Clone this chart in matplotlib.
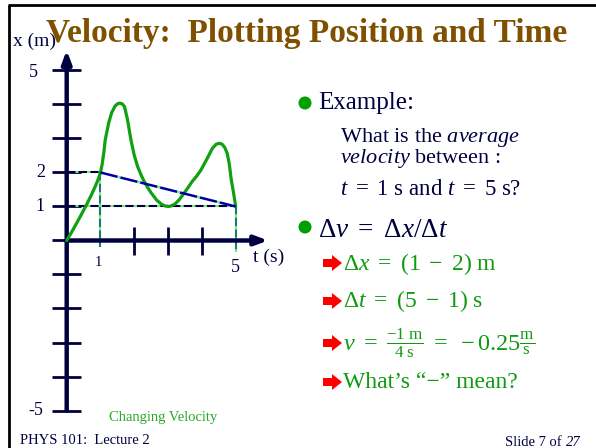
import matplotlib
matplotlib.use("Agg")
import matplotlib.pyplot as plt
from matplotlib.patches import Circle, Polygon

plt.rcParams["font.family"] = ["Liberation Serif", "DejaVu Serif"]
plt.rcParams["mathtext.fontset"] = "custom"
plt.rcParams["mathtext.rm"] = "Liberation Serif"
plt.rcParams["mathtext.it"] = "Liberation Serif:italic"
plt.rcParams["mathtext.bf"] = "Liberation Serif:bold"

# ---- data -------------------------------------------------------------
curve_t = [0.0, 0.13, 0.26, 0.42, 0.58, 0.72, 0.84, 0.92, 1.0, 1.05, 1.1,
           1.14, 1.24, 1.33, 1.43, 1.5, 1.57, 1.64, 1.71, 1.8, 1.9, 2.0,
           2.1, 2.2, 2.29, 2.4, 2.5, 2.66, 2.8, 2.9, 3.0, 3.07, 3.2, 3.33,
           3.47, 3.6, 3.7, 3.85, 3.97, 4.15, 4.31, 4.42, 4.52, 4.6, 4.68,
           4.75, 4.81, 4.87, 4.94, 5.0]
curve_x = [0.0, 0.22, 0.45, 0.74, 1.04, 1.32, 1.58, 1.77, 2.0, 2.25, 2.6,
           2.96, 3.45, 3.76, 3.95, 4.02, 4.04, 4.02, 3.94, 3.55, 2.96, 2.5,
           2.17, 1.93, 1.74, 1.55, 1.4, 1.19, 1.07, 1.02, 1.0, 1.01, 1.07,
           1.2, 1.39, 1.57, 1.72, 1.9, 2.07, 2.4, 2.71, 2.83, 2.86, 2.83,
           2.73, 2.56, 2.25, 1.78, 1.38, 1.0]

t_start, t_end = 1, 5
x_start, x_end = 2, 1

y_ticks = [-5, -4, -3, -2, -1, 0, 1, 2, 3, 4, 5]
x_ticks_plain = [2, 3, 4]
y_tick_labels = {5: "5", 2: "2", 1: "1", -5: "-5"}
x_tick_labels = {1: "1", 5: "5"}

# ---- colours ----------------------------------------------------------
NAVY = "#000040"
BROWN = "#7f5000"
GREEN = "#10a010"
TEXT_GREEN = "#109a10"
LIME = "#70f070"
BLUE = "#0000a0"
TEAL = "#1a7a7a"

W, H = 596, 448
fig = plt.figure(figsize=(W / 100, H / 100), dpi=100)
fig.patch.set_facecolor("white")

# page layer in pixel units (y downwards)
pg = fig.add_axes([0, 0, 1, 1])
pg.set_xlim(0, W)
pg.set_ylim(H, 0)
pg.axis("off")

# slide frame
pg.plot([8, W], [5, 5], color="black", lw=2.0, solid_capstyle="butt")
pg.plot([9, 9], [5, H], color="black", lw=2.0, solid_capstyle="butt")

# title
pg.text(46, 42, "Velocity:  Plotting Position and Time", fontsize=24,
        fontweight="bold", color=BROWN, ha="left", va="baseline")

# ---- graph ------------------------------------------------------------
# pixel placement of the graph axes: t=0 at px 66.7, 33.8 px per second;
# x=0 at py 240.5, 34 px per metre
t0_px, t_scale = 66.7, 33.8
x0_py, x_scale = 240.5, 34.0
t_lo, t_hi = -1.0, 6.5
x_lo, x_hi = -5.6, 6.0
left = t0_px + t_lo * t_scale
right = t0_px + t_hi * t_scale
top = x0_py - x_hi * x_scale
bottom = x0_py - x_lo * x_scale
ax = fig.add_axes([left / W, (H - bottom) / H, (right - left) / W,
                   (bottom - top) / H])
ax.set_xlim(t_lo, t_hi)
ax.set_ylim(x_lo, x_hi)
ax.axis("off")
ax.patch.set_alpha(0)

# axes with arrows
head = "-|>,head_length=0.75,head_width=0.28"
ax.annotate("", xy=(0, 5.6), xytext=(0, -5.0),
            arrowprops=dict(arrowstyle=head, lw=3.2, color=NAVY,
                            shrinkA=0, shrinkB=0))
ax.annotate("", xy=(5.96, 0), xytext=(0, 0),
            arrowprops=dict(arrowstyle=head, lw=3.2, color=NAVY,
                            shrinkA=0, shrinkB=0))
ax.hlines(y_ticks, -0.43, 0.43, color=NAVY, lw=2.0)
ax.vlines(x_ticks_plain, -0.43, 0.41, color=NAVY, lw=2.0)

# guide lines
ax.plot([0, t_start], [x_start, x_start], color=NAVY, gapcolor=LIME,
        lw=1.5, ls=(0, (4, 1.6)))
ax.plot([0, t_end], [x_end, x_end], color=NAVY, gapcolor=LIME,
        lw=1.5, ls=(0, (4, 1.6)))
ax.plot([t_start, t_start], [x_start, -0.2], color=TEAL, gapcolor=LIME,
        lw=1.5, ls=(0, (4, 1.6)))
ax.plot([t_end, t_end], [x_end, -0.35], color=TEAL, gapcolor=LIME,
        lw=1.5, ls=(0, (4, 1.6)))

# position curve
ax.plot(curve_t, curve_x, color=GREEN, lw=2.3, solid_joinstyle="round",
        solid_capstyle="round", zorder=4)

# average-velocity chord
ax.plot([t_start, t_end], [x_start, x_end], color=BLUE, gapcolor=LIME,
        lw=1.8, ls=(0, (7, 1.2)), zorder=5)

# tick labels
y_label_offsets = {5: (-29, -2), 2: (-21, 0), 1: (-22, 0), -5: (-23, 0)}
for val, lab in y_tick_labels.items():
    dx, dy = y_label_offsets[val]
    ax.annotate(lab, xy=(0, val), xytext=(dx, dy), textcoords="offset pixels",
                ha="right", va="center", fontsize=13, color=NAVY)
x_label_sizes = {1: 10.5, 5: 13}
x_label_offsets = {1: (-2, -22), 5: (0, -27)}
for val, lab in x_tick_labels.items():
    dx, dy = x_label_offsets[val]
    ax.annotate(lab, xy=(val, 0), xytext=(dx, dy), textcoords="offset pixels",
                ha="center", va="center", fontsize=x_label_sizes[val],
                color=NAVY)

pg.text(13, 46, "x (m)", fontsize=14, color=NAVY, ha="left", va="baseline")
pg.text(253, 262, "t (s)", fontsize=14, color=NAVY, ha="left", va="baseline")

# ---- right-hand text --------------------------------------------------
for cy in (103, 227):
    pg.add_patch(Circle((305, cy), 6.5, color="#00a000", lw=0))

pg.text(318, 109, "Example:", fontsize=18, color=NAVY, va="baseline")
pg.text(340, 142, r"What is the $\mathit{average}$", fontsize=16,
        color=NAVY, va="baseline")
pg.text(340, 163, r"$\mathit{velocity}$ between :", fontsize=16,
        color=NAVY, va="baseline")
pg.text(340, 195, r"$t\ =\ 1\ \mathrm{s}$ and $t\ =\ 5\ \mathrm{s}$?",
        fontsize=16.5, color=NAVY, va="baseline")
pg.text(318, 237, r"$\Delta v\ =\ \Delta x/\Delta t$", fontsize=19.5,
        color=NAVY, va="baseline")


def red_arrow(cy):
    x0 = 323
    pts = [(x0, cy - 4), (x0 + 9, cy - 4), (x0 + 9, cy - 8), (x0 + 19, cy),
           (x0 + 9, cy + 8), (x0 + 9, cy + 4), (x0, cy + 4)]
    pg.add_patch(Polygon(pts, closed=True, color="#ff0000", lw=0))


green_lines = [
    (263, 270, r"$\Delta x\ =\ (1\ -\ 2)\ \mathrm{m}$"),
    (301, 307, r"$\Delta t\ =\ (5\ -\ 1)\ \mathrm{s}$"),
]
for cy, base, s in green_lines:
    red_arrow(cy)
    pg.text(343, base, s, fontsize=17, color=TEXT_GREEN, va="baseline")

red_arrow(343)
pg.text(343, 343,
        r"$v\ =\ \frac{-1\ \mathrm{m}}{4\ \mathrm{s}}\ =\ -0.25\frac{\mathrm{m}}{\mathrm{s}}$",
        fontsize=17.5, color=TEXT_GREEN, va="center")
red_arrow(382)
pg.text(343, 388, "What\u2019s \u201c\u2212\u201d mean?", fontsize=17,
        color=TEXT_GREEN, va="baseline")

# ---- footer -----------------------------------------------------------
pg.text(109, 421, "Changing Velocity", fontsize=10.5, color="#2aa82a",
        va="baseline")
pg.text(20, 444, "PHYS 101:  Lecture 2", fontsize=10.5, color=NAVY,
        va="baseline")
pg.text(505, 446, "Slide 7 of ", fontsize=10.5, color=NAVY, va="baseline")
pg.text(566, 446, "27", fontsize=10.5, color=NAVY, va="baseline",
        style="italic")

fig.savefig("out.png", dpi=100, facecolor="white")
